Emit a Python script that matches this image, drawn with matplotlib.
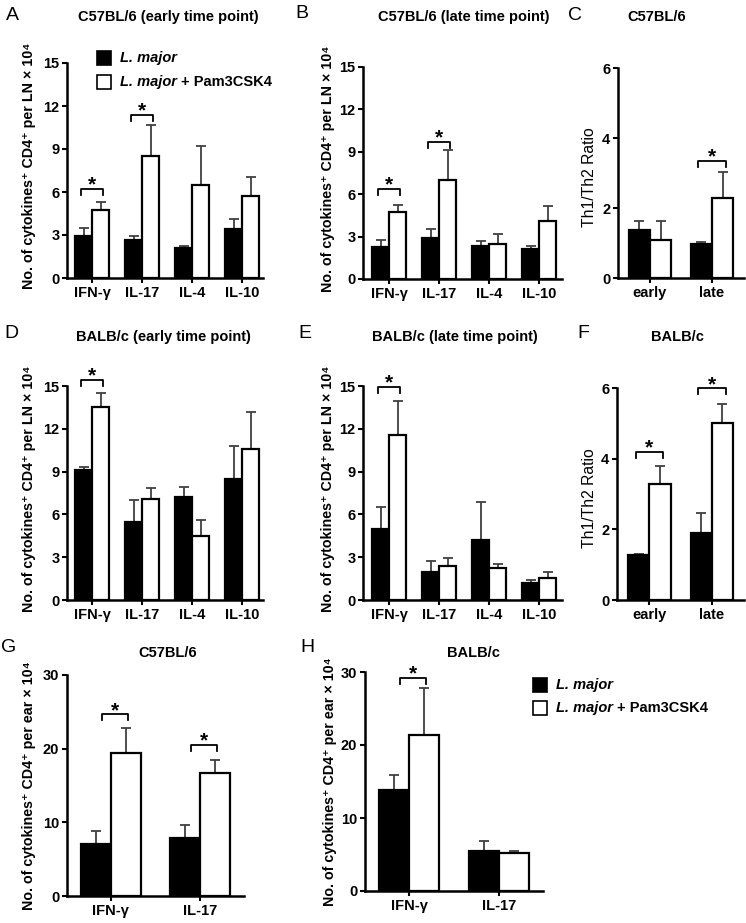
import matplotlib
matplotlib.use('Agg')
import matplotlib.pyplot as plt
from matplotlib.patches import Rectangle
import numpy as np

plt.rcParams['font.family'] = ['Liberation Sans', 'DejaVu Sans']

W, H = 746, 923

# ---------------- data ----------------
cyto4 = ['IFN-γ', 'IL-17', 'IL-4', 'IL-10']
cyto2 = ['IFN-γ', 'IL-17']
times = ['early', 'late']

A_lm = [2.9, 2.63, 2.12, 3.4]
A_lm_err = [0.58, 0.27, 0.08, 0.7]
A_pam = [4.72, 8.48, 6.5, 5.7]
A_pam_err = [0.58, 2.18, 2.7, 1.33]
A_sig = [(0, 6.2), (1, 11.4)]

B_lm = [2.28, 2.9, 2.35, 2.15]
B_lm_err = [0.45, 0.62, 0.32, 0.2]
B_pam = [4.72, 7.0, 2.45, 4.1]
B_pam_err = [0.53, 2.1, 0.75, 1.1]
B_sig = [(0, 6.35), (1, 9.7)]

C_lm = [1.38, 0.97]
C_lm_err = [0.24, 0.06]
C_pam = [1.1, 2.3]
C_pam_err = [0.52, 0.74]
C_sig = [(1, 3.35)]

D_lm = [9.1, 5.45, 7.25, 8.45]
D_lm_err = [0.22, 1.58, 0.68, 2.32]
D_pam = [13.5, 7.05, 4.5, 10.55]
D_pam_err = [1.0, 0.8, 1.08, 2.62]
D_sig = [(0, 15.4)]

E_lm = [4.95, 1.97, 4.2, 1.2]
E_lm_err = [1.57, 0.75, 2.7, 0.22]
E_pam = [11.55, 2.35, 2.25, 1.55]
E_pam_err = [2.4, 0.6, 0.3, 0.42]
E_sig = [(0, 14.95)]

F_lm = [1.28, 1.91]
F_lm_err = [0.03, 0.54]
F_pam = [3.28, 5.02]
F_pam_err = [0.52, 0.52]
F_sig = [(0, 4.18), (1, 5.99)]

G_lm = [7.1, 7.9]
G_lm_err = [1.7, 1.8]
G_pam = [19.45, 16.65]
G_pam_err = [3.35, 1.85]
G_sig = [(0, 24.66), (1, 20.5)]

H_lm = [13.9, 5.45]
H_lm_err = [2.05, 1.45]
H_pam = [21.35, 5.27]
H_pam_err = [6.4, 0.25]
H_sig = [(0, 29.2)]

yticks15 = [0, 3, 6, 9, 12, 15]
yticks6 = [0, 2, 4, 6]
yticks30 = [0, 10, 20, 30]

ylab_ln = 'No. of cytokines⁺ CD4⁺ per LN × 10⁴'
ylab_ear = 'No. of cytokines⁺ CD4⁺ per ear × 10⁴'
ylab_ratio = 'Th1/Th2 Ratio'

# ---------------- figure ----------------
fig = plt.figure(figsize=(W / 100, H / 100), dpi=100)


def fx(px):
    return px / W


def fy(py):
    return 1 - py / H


def make_panel(rect, xlim, cats, lm, lm_err, pam, pam_err, yticks, ylabel,
               ylab_x, sig, sig_span=(-0.22, 0.22), bw=0.34, ylab_w='bold',
               ylab_size=10.3, ylab_y=0.5):
    l, t, r, b = rect
    ax = fig.add_axes([fx(l), fy(b), fx(r - l), (b - t) / H])
    x = np.arange(len(cats))
    ax.errorbar(x - bw / 2, lm, yerr=[np.zeros(len(lm)), lm_err], fmt='none',
                ecolor='#404040', elinewidth=1.3, capsize=3.5, capthick=1.3,
                zorder=1, clip_on=False)
    ax.errorbar(x + bw / 2, pam, yerr=[np.zeros(len(pam)), pam_err], fmt='none',
                ecolor='#404040', elinewidth=1.3, capsize=3.5, capthick=1.3,
                zorder=1, clip_on=False)
    ax.bar(x - bw / 2, lm, width=bw, color='black', edgecolor='black',
           linewidth=1.6, zorder=2)
    ax.bar(x + bw / 2, pam, width=bw, color='white', edgecolor='black',
           linewidth=1.6, zorder=2)
    ymax = yticks[-1]
    ax.set_xlim(*xlim)
    ax.set_ylim(0, ymax)
    ax.set_yticks(yticks)
    ax.set_yticklabels([str(v) for v in yticks], fontweight='bold', fontsize=10.5)
    ax.set_xticks(x)
    ax.set_xticklabels(cats, fontweight='bold', fontsize=10.5)
    for s in ['top', 'right']:
        ax.spines[s].set_visible(False)
    for s in ['left', 'bottom']:
        ax.spines[s].set_linewidth(1.8)
    ax.tick_params(axis='both', direction='out', length=3.5, width=1.5, pad=2)
    ax.set_ylabel(ylabel, fontweight=ylab_w, fontsize=ylab_size)
    ax.yaxis.set_label_coords((ylab_x - l) / (r - l), ylab_y)
    # significance brackets
    px_per_unit = (b - t) / ymax
    leg = 6 / px_per_unit
    for gi, yb in sig:
        x0, x1 = gi + sig_span[0], gi + sig_span[1]
        ax.plot([x0, x0, x1, x1], [yb - leg, yb, yb, yb - leg], color='black',
                lw=1.3, clip_on=False, zorder=3)
        ax.annotate('*', xy=((x0 + x1) / 2, yb), xytext=(0, -4),
                    textcoords='offset points', ha='center', va='bottom',
                    fontsize=15, fontweight='bold', annotation_clip=False)
    return ax


# Row 1
make_panel((67, 63, 263, 278), (-0.5, 3.42), cyto4, A_lm, A_lm_err, A_pam,
           A_pam_err, yticks15, ylab_ln, 36, A_sig, ylab_y=0.52)
make_panel((363, 67, 562, 279), (-0.52, 3.46), cyto4, B_lm, B_lm_err, B_pam,
           B_pam_err, yticks15, ylab_ln, 335, B_sig, ylab_y=0.52)
make_panel((618, 68, 744, 278), (-0.516, 1.516), times, C_lm, C_lm_err, C_pam,
           C_pam_err, yticks6, ylab_ratio, 597, C_sig, ylab_w='normal',
           ylab_size=11.3, ylab_y=0.48)
# Row 2
make_panel((67, 386, 263, 600), (-0.5, 3.42), cyto4, D_lm, D_lm_err, D_pam,
           D_pam_err, yticks15, ylab_ln, 36, D_sig, ylab_y=0.52)
make_panel((363, 386, 562, 600), (-0.52, 3.46), cyto4, E_lm, E_lm_err, E_pam,
           E_pam_err, yticks15, ylab_ln, 335, E_sig, ylab_y=0.52)
make_panel((617, 388, 744, 600), (-0.516, 1.516), times, F_lm, F_lm_err, F_pam,
           F_pam_err, yticks6, ylab_ratio, 597, F_sig, ylab_w='normal',
           ylab_size=11.3, ylab_y=0.48)
# Row 3
make_panel((67, 675, 244, 896), (-0.49, 1.49), cyto2, G_lm, G_lm_err, G_pam,
           G_pam_err, yticks30, ylab_ear, 36, G_sig, sig_span=(-0.1, 0.19),
           bw=0.335)
make_panel((365, 672, 543, 891), (-0.49, 1.49), cyto2, H_lm, H_lm_err, H_pam,
           H_pam_err, yticks30, ylab_ear, 337, H_sig, sig_span=(-0.1, 0.19),
           bw=0.335)

# titles
titles = [('C57BL/6 (early time point)', 168, 17),
          ('C57BL/6 (late time point)', 464, 17),
          ('C57BL/6', 657, 17),
          ('BALB/c (early time point)', 163, 337),
          ('BALB/c (late time point)', 455, 337),
          ('BALB/c', 677, 337),
          ('C57BL/6', 168, 653),
          ('BALB/c', 473, 653)]
for txt, x, y in titles:
    fig.text(fx(x), fy(y), txt, ha='center', va='center', fontweight='bold',
             fontsize=10.5)

letters = [('A', 12, 15), ('B', 302, 13), ('C', 575, 15),
           ('D', 11, 333), ('E', 305, 333), ('F', 583, 334),
           ('G', 9, 648), ('H', 307, 647)]
for txt, x, y in letters:
    fig.text(fx(x), fy(y), txt, ha='center', va='center', fontsize=14)

# legends
renderer = fig.canvas.get_renderer()


def legend(xs, yc1, yc2, xt):
    for yc, fc in [(yc1, 'black'), (yc2, 'white')]:
        fig.patches.append(Rectangle((fx(xs), fy(yc + 7)), 14 / W, 14 / H,
                                     transform=fig.transFigure,
                                     facecolor=fc, edgecolor='black', lw=1.2))
    fig.text(fx(xt), fy(yc1), 'L. major', style='italic', fontweight='bold',
             fontsize=10.5, va='center', ha='left')
    t = fig.text(fx(xt), fy(yc2), 'L. major', style='italic',
                 fontweight='bold', fontsize=10.5, va='center', ha='left')
    bb = t.get_window_extent(renderer)
    fig.text(fx(bb.x1 + 4), fy(yc2), '+ Pam3CSK4', fontweight='bold',
             fontsize=10.5, va='center', ha='left')


legend(97, 58, 82, 120)
legend(533, 685, 708, 556)

fig.savefig('out.png', dpi=100)
